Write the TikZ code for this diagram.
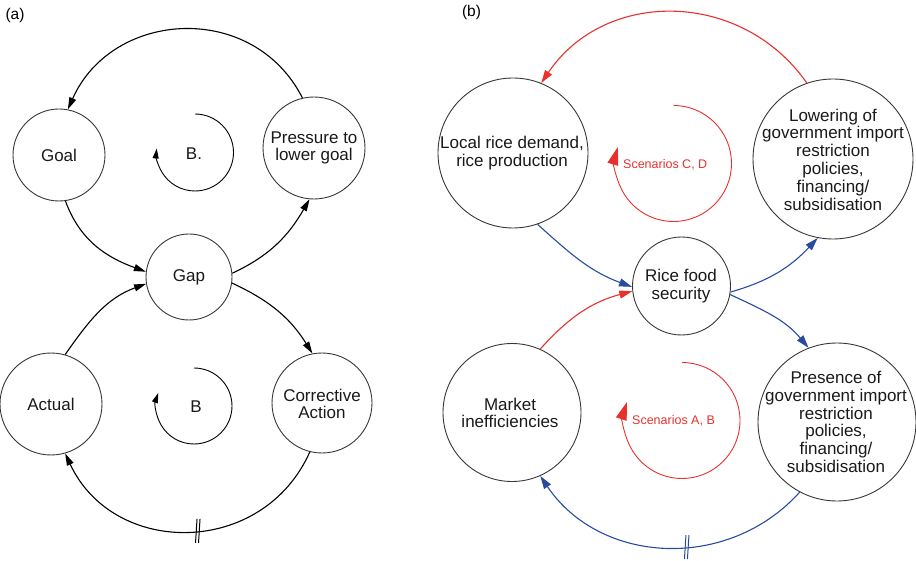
\documentclass[tikz,border=0pt]{standalone}
\usepackage{fontspec}
\setmainfont{Liberation Sans}
\usetikzlibrary{arrows.meta}
\definecolor{loopred}{RGB}{232,48,44}
\definecolor{linkblue}{RGB}{40,75,160}
\definecolor{rim}{RGB}{55,55,55}
\begin{document}
\begin{tikzpicture}[x=1pt,y=1pt,
  var/.style={circle, draw=rim, line width=0.9pt, inner sep=0pt},
  txt/.style={align=center, font=\fontsize{17}{17.8}\selectfont, inner sep=0pt, text=black!90},
  tag/.style={font=\fontsize{15.5}{17}\selectfont, inner sep=0pt},
  scen/.style={font=\fontsize{12.5}{14}\selectfont, inner sep=0pt, text=loopred, anchor=west},
  link/.style={line width=1.1pt, draw=black, -{Triangle[length=12pt,width=7pt]}},
  redlink/.style={line width=1.1pt, draw=loopred, -{Triangle[length=13pt,width=8pt,fill=loopred]}},
  bluelink/.style={line width=1.1pt, draw=linkblue, -{Triangle[length=13pt,width=8pt,fill=linkblue]}},
  blackloop/.style={line width=0.9pt, -{Triangle[length=10pt,width=6pt]}},
  redloop/.style={line width=0.9pt, draw=loopred, -{Triangle[length=18pt,width=11pt,fill=loopred]}},
  delay/.style={line width=1pt}
]
\useasboundingbox (0,0) rectangle (916,-561);

% ---------------- panel (a): generic goal-gap structure ----------------
\node[tag] (tagA) at (15,-15) {(a)};

\node[var, minimum size=92]  (goal)   at (59,-155)  {};
\node[var, minimum size=102] (press)  at (314,-148) {};
\node[var, minimum size=86]  (gap)    at (189,-277) {};
\node[var, minimum size=102] (actual) at (51,-404)  {};
\node[var, minimum size=100] (corr)   at (322,-403) {};

\node[txt] (goal-t)   at (goal)       {Goal};
\node[txt] (press-t)  at (314,-148)   {Pressure to\\lower goal};
\node[txt] (gap-t)    at (gap)        {Gap};
\node[txt] (actual-t) at (actual)     {Actual};
\node[txt] (corr-t)   at (322,-404)   {Corrective\\Action};

\draw[link] (press.103) .. controls +(117:109) and +(66:109) .. (goal.79);
\draw[link] (goal.-82) to[out=-70,in=160] (gap.173);
\draw[link] (gap.5) to[out=25,in=-120] (press.-95);
\draw[link] (actual.74) to[out=55,in=200] (gap.189);
\draw[link] (gap.-8) to[out=-25,in=122] (corr.101);
\draw[link] (corr.-104) .. controls +(-114:115) and +(-65:115) .. (actual.-74)
  coordinate[pos=0.47] (dA);
\draw[delay] ([shift={(-1.5,-12)}]dA) -- ++(1.5,24);
\draw[delay] ([shift={(1.5,-12)}]dA) -- ++(1.5,24);

% balancing loop markers
\coordinate (loopB1) at (195,-152.5);
\draw[blackloop] ([shift={(90:38.5)}]loopB1) arc[start angle=90,end angle=-186,radius=38.5];
\node[txt] (loopB1-t) at (194,-154) {B.};
\coordinate (loopB2) at (194,-406);
\draw[blackloop] ([shift={(90:38)}]loopB2) arc[start angle=90,end angle=-200,radius=38];
\node[txt] (loopB2-t) at (196,-407) {B};

% ---------------- panel (b): rice food security ----------------
\node[tag] (tagB) at (471.5,-12.5) {(b)};

\node[var, minimum size=150] (local)    at (513,-153)   {};
\node[var, minimum size=160] (lower)    at (833,-159)   {};
\node[var, minimum size=98]  (rice)     at (681.5,-286) {};
\node[var, minimum size=138] (market)   at (512,-412.5) {};
\node[var, minimum size=158] (presence) at (837,-422)   {};

\node[txt] (local-t)    at (512,-153.5) {Local rice demand,\\rice production};
\node[txt] (lower-t)    at (833,-159.5) {Lowering of\\government import\\restriction\\policies,\\financing/\\subsidisation};
\node[txt] (rice-t)     at (681,-286.5) {Rice food\\security};
\node[txt] (market-t)   at (510,-413)   {Market\\inefficiencies};
\node[txt] (presence-t) at (836,-422)   {Presence of\\government import\\restriction\\policies,\\financing/\\subsidisation};

\draw[redlink]  (lower.109) .. controls +(125:114) and +(56:114) .. (local.68);
\draw[bluelink] (local.-71) to[out=-42,in=160] (rice.181);
\draw[bluelink] (rice.-7) to[out=16,in=-133] (lower.-101);
\draw[redlink]  (market.66) to[out=48,in=195] (rice.186);
\draw[bluelink] (rice.-10) to[out=-25,in=130] (presence.111);
\draw[bluelink] (presence.242) .. controls +(-132:107) and +(-56:107) .. (market.-66)
  coordinate[pos=0.43] (dB);
\draw[delay, draw=linkblue] ([shift={(-1.5,-12)}]dB) -- ++(1.5,24);
\draw[delay, draw=linkblue] ([shift={(1.5,-12)}]dB) -- ++(1.5,24);

% scenario loop markers
\coordinate (loopCD) at (673.5,-163.5);
\draw[redloop] ([shift={(90:58)}]loopCD) arc[start angle=90,end angle=-196.5,radius=58];
\node[scen] (loopCD-t) at (623,-164.5) {Scenarios C, D};
\coordinate (loopAB) at (682,-420.5);
\draw[redloop] ([shift={(90:58)}]loopAB) arc[start angle=90,end angle=-198.6,radius=58];
\node[scen] (loopAB-t) at (632,-421) {Scenarios A, B};
\end{tikzpicture}
\end{document}
